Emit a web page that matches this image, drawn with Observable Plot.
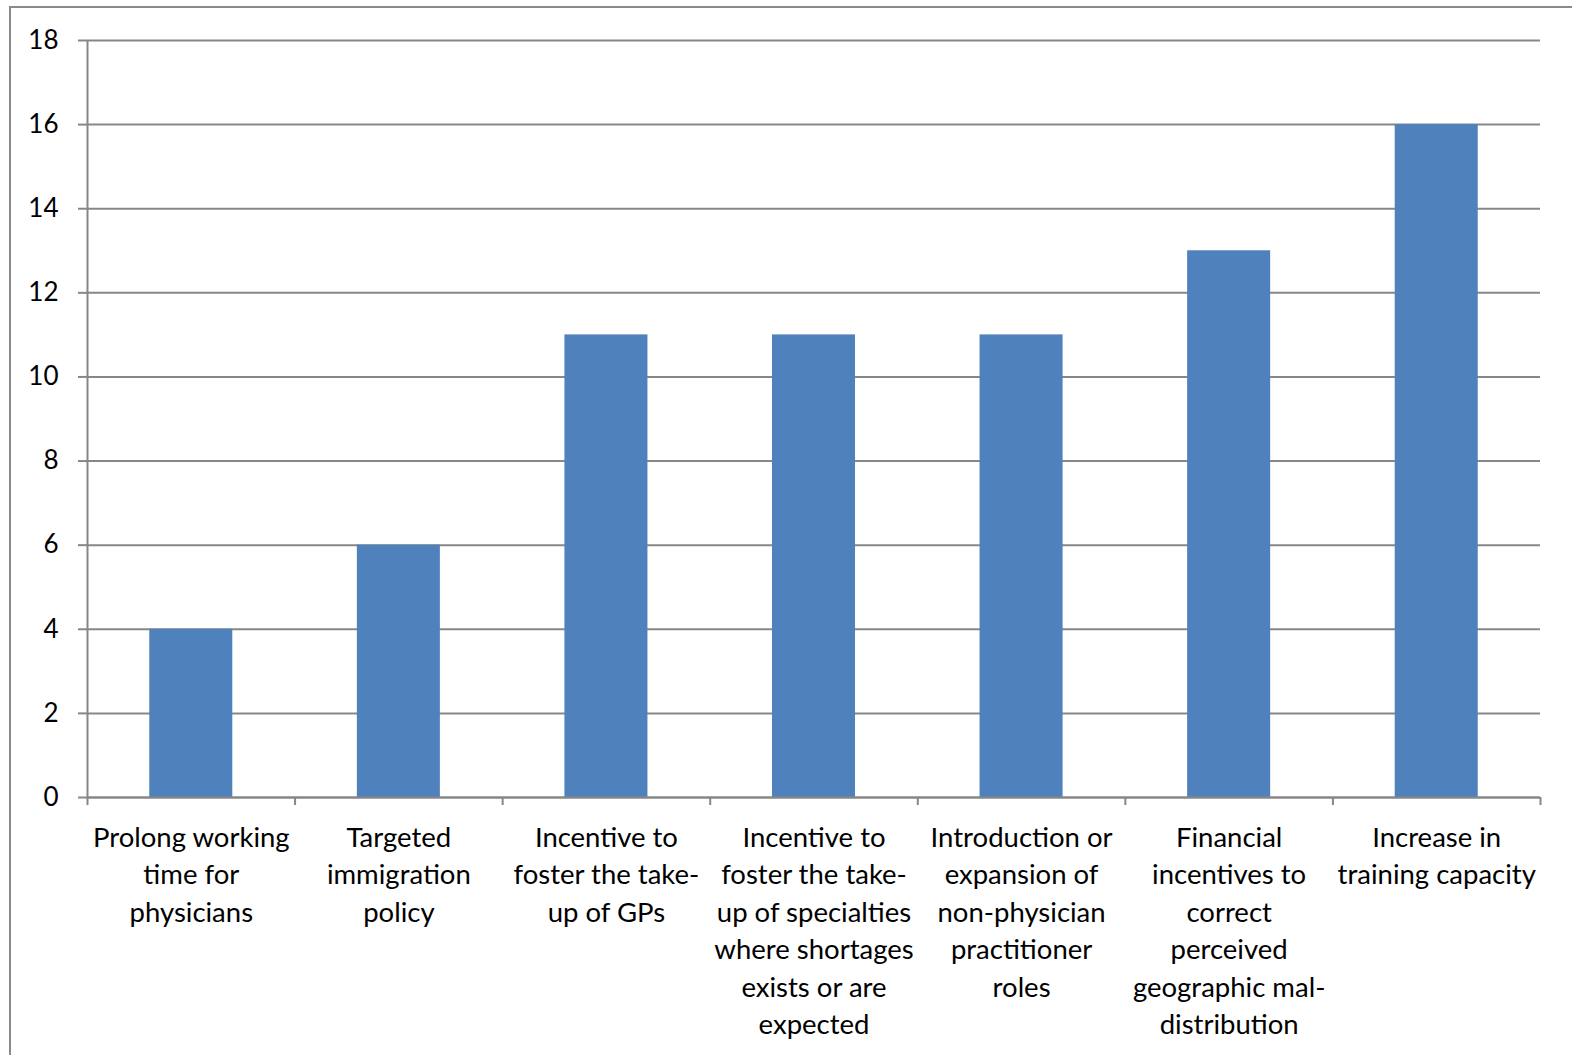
<!DOCTYPE html>
<html>
<head>
<meta charset="utf-8">
<script src="https://cdn.jsdelivr.net/npm/d3@7"></script>
<script src="https://cdn.jsdelivr.net/npm/@observablehq/plot@0.6"></script>
<style>
  html, body { margin: 0; padding: 0; background: #fff; overflow: hidden; }
  #wrap { position: relative; width: 1572px; height: 1055px; }
  #border { position: absolute; left: 9px; top: 6px; width: 1700px; height: 1200px;
            border-left: 2px solid #8a8a8a; border-top: 2px solid #8a8a8a; pointer-events: none; }
  #chart { position: absolute; left: 0; top: 0; }
  #chart svg { font-family: Lato, "Open Sans", sans-serif; }
</style>
</head>
<body>
<div id="wrap">
  <div id="chart"></div>
  <div id="border"></div>
</div>
<script>
// Policy measures (multi-line labels) and number of countries reporting each
const categories = [
  "Prolong working\ntime for\nphysicians",
  "Targeted\nimmigration\npolicy",
  "Incentive to\nfoster the take-\nup of GPs",
  "Incentive to\nfoster the take-\nup of specialties\nwhere shortages\nexists or are\nexpected",
  "Introduction or\nexpansion of\nnon-physician\npractitioner\nroles",
  "Financial\nincentives to\ncorrect\nperceived\ngeographic mal-\ndistribution",
  "Increase in\ntraining capacity"
];
const values = [4, 6, 11, 11, 11, 13, 16];
const yTicks = [0, 2, 4, 6, 8, 10, 12, 14, 16, 18];

const data = categories.map((c, i) => ({label: c, index: i, value: values[i]}));
const gridColor = "#878787";

const chart = Plot.plot({
  width: 1572,
  height: 1055,
  marginLeft: 87,
  marginRight: 32,
  marginTop: 40,
  marginBottom: 258,
  style: {fontSize: "26px", color: "#000", background: "transparent"},
  x: {type: "linear", domain: [0, categories.length]},
  y: {domain: [0, 18]},
  marks: [
    Plot.gridY(yTicks, {stroke: gridColor, strokeOpacity: 1, strokeWidth: 2}),
    // category bars, centered in each slot
    Plot.rectY(data, {
      x1: d => d.index + 0.3,
      x2: d => d.index + 0.7,
      y: "value",
      fill: "#4F81BD"
    }),
    // y axis with outward ticks
    Plot.axisY(yTicks, {
      tickSize: 9, tickPadding: 20, stroke: gridColor, strokeWidth: 2,
      fill: "#000", fontSize: 26, label: null
    }),
    Plot.ruleX([0], {stroke: gridColor, strokeWidth: 2}),
    Plot.ruleY([0], {stroke: gridColor, strokeWidth: 2}),
    // boundary ticks between categories
    Plot.axisX(d3.range(0, categories.length + 1), {
      tickSize: 8, stroke: gridColor, strokeWidth: 2,
      tickFormat: () => "", label: null
    }),
    // category labels
    Plot.text(data, {
      x: d => d.index + 0.5,
      y: 0,
      text: "label",
      lineAnchor: "top",
      lineHeight: 1.36,
      dy: 23,
      fontSize: 27.5,
      fill: "#000"
    })
  ]
});
document.getElementById("chart").appendChild(chart);
</script>
</body>
</html>
